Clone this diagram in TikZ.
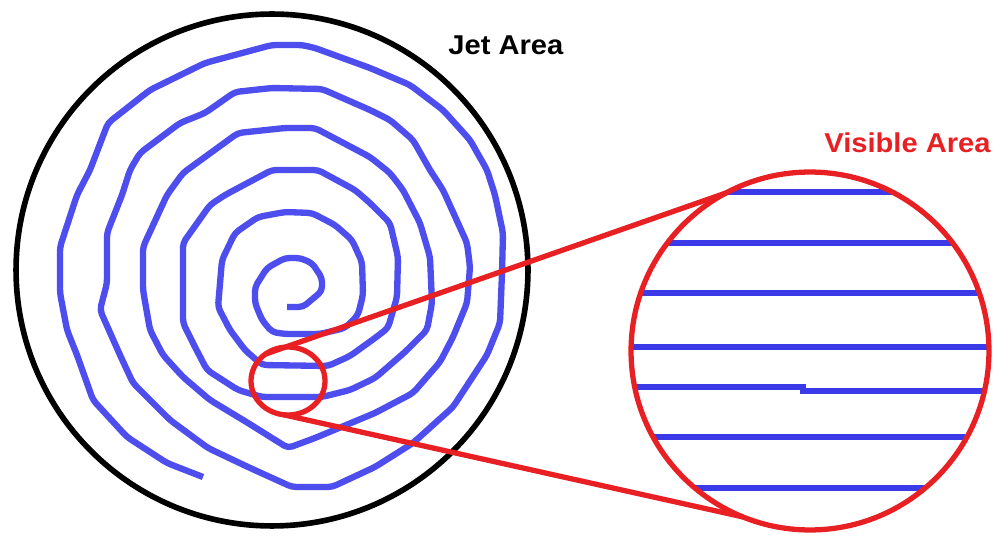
\documentclass[tikz,border=0pt]{standalone}
\usepackage{fontspec}
\setmainfont{Liberation Sans}
\usetikzlibrary{shapes.geometric}
\definecolor{spiralblue}{RGB}{78,78,238}
\definecolor{hatchblue}{RGB}{58,58,232}
\definecolor{zoomred}{RGB}{232,32,36}
\begin{document}
\begin{tikzpicture}[x=0.02cm,y=-0.02cm,
  spiralline/.style={draw=spiralblue,line width=3.6pt,line join=round,rounded corners=2.5pt},
  scanline/.style={draw=hatchblue,line width=2.9pt},
  jetring/.style={circle,draw=black,line width=3.2pt,inner sep=0pt,outer sep=0pt,minimum size=10.24cm},
  viewring/.style={circle,draw=zoomred,line width=3pt,inner sep=0pt,outer sep=0pt,minimum size=7.16cm},
  lensring/.style={ellipse,draw=zoomred,line width=3pt,inner sep=0pt,outer sep=0pt,minimum width=1.48cm,minimum height=1.36cm},
  zoomlink/.style={draw=zoomred,line width=3pt},
  areatext/.style={font=\fontsize{15.5}{18}\selectfont\bfseries,inner sep=0pt,anchor=base west}
]
\fill[white] (0,0) rectangle (993,536);
\useasboundingbox (0,0) rectangle (993,536);

% spiral (jet path)
\draw[spiralline] (287,307) -- (303,307) -- (322,291) -- (322,278) -- (312,263) -- (300,258) -- (285,258) -- (267,268) -- (255,287) -- (255,303) -- (262,320) -- (272,332) -- (285,334) -- (320,334) -- (345,328) -- (358,315) -- (363,295)
  -- (362,262) -- (352,240) -- (335,225) -- (312,213) -- (285,212) -- (258,217) -- (235,233) -- (222,260) -- (218,307) -- (230,330) -- (245,350) -- (262,365) -- (328,366) -- (350,356) -- (375,338) -- (388,328)
  -- (397,297) -- (398,257) -- (390,223) -- (370,203) -- (355,190) -- (318,170) -- (272,170) -- (225,195) -- (210,205) -- (183,243) -- (183,290) -- (183,323) -- (195,347) -- (207,370) -- (238,390) -- (262,397) -- (322,397) -- (350,390) -- (375,378) -- (405,352)
  -- (427,330) -- (432,303) -- (430,257) -- (420,223) -- (403,190) -- (390,173) -- (370,157) -- (315,128) -- (285,128) -- (238,133) -- (205,157) -- (183,173) -- (167,195) -- (143,247) -- (143,290) -- (150,330) -- (163,355) -- (183,377) -- (210,400) -- (248,423) -- (288,448) -- (315,438) -- (375,413) -- (413,393)
  -- (440,362) -- (453,337) -- (467,303) -- (470,267) -- (467,243) -- (443,190) -- (430,170) -- (413,140) -- (390,120) -- (370,110) -- (322,89) -- (272,88) -- (235,92) -- (205,113) -- (180,123) -- (140,153) -- (130,170) -- (122,195) -- (107,233) -- (107,283) -- (100,310) -- (120,355) -- (133,383) -- (170,420) -- (208,448) -- (248,467) -- (292,487) -- (332,487) -- (375,467) -- (413,443) -- (453,407)
  -- (487,355) -- (500,323) -- (502,273) -- (503,233) -- (495,195) -- (487,170) -- (470,140) -- (443,110) -- (410,85) -- (370,68) -- (315,48) -- (302,45) -- (272,45) -- (205,63) -- (150,90) -- (108,123) -- (90,170) -- (77,195) -- (60,247) -- (60,293) -- (67,330) -- (77,355) -- (93,400) -- (127,437) -- (167,463) -- (203,477);

% jet area boundary
\node[jetring] (jet) at (272,270) {};
\node[areatext,text=black] (jetlabel) at (448,55) {\scalebox{1.07}[1]{Jet Area}};

% magnified view: scan lines
\begin{scope}
  \clip (810,351) circle[radius=179];
  \draw[scanline] (620,192) -- (1000,192);
  \draw[scanline] (620,243) -- (1000,243);
  \draw[scanline] (620,293) -- (1000,293);
  \draw[scanline] (620,347) -- (1000,347);
  \draw[scanline] (620,387) -- (806,387);
  \draw[scanline] (800,391) -- (1000,391);
  \draw[scanline] (620,437) -- (1000,437);
  \draw[scanline] (620,488) -- (1000,488);
\end{scope}

\node[viewring] (visible) at (810,351) {};
\node[lensring] (lens) at (288,381) {};
\draw[zoomlink] (lens.130) -- (visible.118);
\draw[zoomlink] (lens.262) -- (visible.248);
\node[areatext,text=zoomred] (vislabel) at (824,153) {\scalebox{1.07}[1]{Visible Area}};
\end{tikzpicture}
\end{document}
